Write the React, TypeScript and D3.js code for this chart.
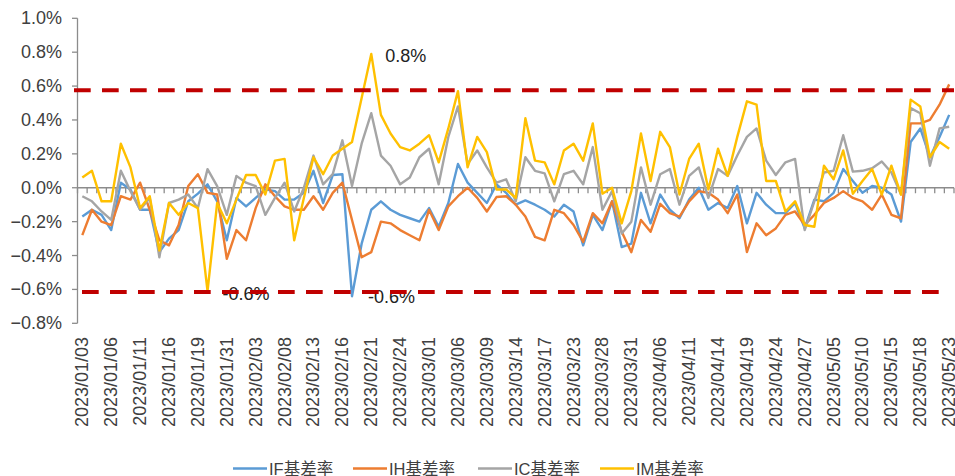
import React from "react";
import * as d3 from "d3";

const dates: string[] = [
  "2023/01/03","2023/01/04","2023/01/05","2023/01/06","2023/01/09","2023/01/10","2023/01/11","2023/01/12","2023/01/13","2023/01/16",
  "2023/01/17","2023/01/18","2023/01/19","2023/01/20","2023/01/30","2023/01/31","2023/02/01","2023/02/02","2023/02/03","2023/02/06",
  "2023/02/07","2023/02/08","2023/02/09","2023/02/10","2023/02/13","2023/02/14","2023/02/15","2023/02/16","2023/02/17","2023/02/20",
  "2023/02/21","2023/02/22","2023/02/23","2023/02/24","2023/02/27","2023/02/28","2023/03/01","2023/03/02","2023/03/03","2023/03/06",
  "2023/03/07","2023/03/08","2023/03/09","2023/03/10","2023/03/13","2023/03/14","2023/03/15","2023/03/16","2023/03/17","2023/03/20",
  "2023/03/22","2023/03/23","2023/03/24","2023/03/27","2023/03/28","2023/03/29","2023/03/30","2023/03/31","2023/04/03","2023/04/04",
  "2023/04/06","2023/04/07","2023/04/10","2023/04/11","2023/04/12","2023/04/13","2023/04/14","2023/04/17","2023/04/18","2023/04/19",
  "2023/04/20","2023/04/21","2023/04/24","2023/04/25","2023/04/26","2023/04/27","2023/04/28","2023/05/04","2023/05/05","2023/05/08",
  "2023/05/09","2023/05/10","2023/05/11","2023/05/12","2023/05/15","2023/05/16","2023/05/17","2023/05/18","2023/05/19","2023/05/22",
  "2023/05/23",
];

// values in %
const ifBasis: number[] = [
  -0.17,-0.13,-0.16,-0.25,0.03,-0.01,-0.13,-0.13,-0.38,-0.30,
  -0.25,-0.08,-0.035,0.02,-0.08,-0.31,-0.06,-0.11,-0.06,-0.01,
  -0.02,-0.07,-0.07,-0.03,0.10,-0.09,0.075,0.08,-0.64,-0.33,
  -0.13,-0.08,-0.13,-0.16,-0.18,-0.20,-0.12,-0.23,-0.09,0.14,
  0.03,-0.03,-0.09,0.02,-0.03,-0.10,-0.075,-0.10,-0.13,-0.17,
  -0.10,-0.14,-0.34,-0.16,-0.25,-0.08,-0.35,-0.33,-0.03,-0.21,
  -0.04,-0.13,-0.18,-0.07,0.0,-0.13,-0.09,-0.12,0.01,-0.21,
  -0.03,-0.10,-0.15,-0.15,-0.09,-0.24,-0.07,-0.08,-0.03,0.11,
  0.04,-0.03,0.01,0.0,-0.04,-0.20,0.27,0.35,0.18,0.30,
  0.43,
];

const ihBasis: number[] = [
  -0.28,-0.13,-0.20,-0.22,-0.05,-0.07,0.03,-0.13,-0.31,-0.34,
  -0.22,0.01,0.08,-0.03,-0.04,-0.42,-0.25,-0.31,-0.12,0.02,
  -0.05,-0.11,-0.13,-0.13,-0.05,-0.13,-0.03,0.03,-0.19,-0.41,
  -0.38,-0.20,-0.21,-0.25,-0.28,-0.31,-0.13,-0.25,-0.11,-0.05,
  0.0,-0.06,-0.14,-0.055,-0.05,-0.10,-0.17,-0.29,-0.31,-0.13,
  -0.15,-0.22,-0.32,-0.15,-0.21,-0.08,-0.26,-0.38,-0.19,-0.26,
  -0.095,-0.15,-0.17,-0.08,-0.02,-0.03,-0.07,-0.15,-0.04,-0.38,
  -0.21,-0.28,-0.24,-0.16,-0.14,-0.22,-0.16,-0.09,-0.06,-0.02,
  -0.06,-0.08,-0.13,-0.04,-0.16,-0.18,0.38,0.38,0.40,0.49,
  0.61,
];

const icBasis: number[] = [
  -0.05,-0.08,-0.14,-0.19,0.10,-0.02,-0.13,-0.06,-0.41,-0.09,
  -0.07,-0.04,-0.12,0.11,0.01,-0.16,0.07,0.03,0.01,-0.16,
  -0.06,0.03,-0.14,0.0,0.19,0.02,0.08,0.28,0.01,0.26,
  0.44,0.19,0.13,0.02,0.06,0.18,0.23,0.02,0.30,0.48,
  0.14,0.22,0.12,0.03,0.05,-0.08,0.18,0.10,0.085,-0.08,
  0.08,0.10,0.02,0.24,-0.13,-0.02,-0.27,-0.20,0.12,-0.10,
  0.08,0.11,-0.10,0.07,0.12,-0.06,0.11,0.07,0.19,0.30,
  0.35,0.16,0.075,0.15,0.17,-0.25,-0.08,0.09,0.10,0.31,
  0.095,0.10,0.115,0.155,0.09,-0.04,0.47,0.44,0.13,0.35,
  0.36,
];

const imBasis: number[] = [
  0.06,0.10,-0.08,-0.08,0.26,0.12,-0.12,-0.05,-0.37,-0.09,
  -0.16,-0.09,-0.12,-0.61,-0.09,-0.21,-0.07,0.075,0.075,-0.04,
  0.16,0.17,-0.31,-0.06,0.18,0.08,0.19,0.23,0.27,0.53,
  0.79,0.43,0.32,0.24,0.22,0.26,0.31,0.15,0.35,0.57,
  0.12,0.30,0.21,-0.01,-0.01,-0.06,0.41,0.16,0.15,0.02,
  0.22,0.26,0.16,0.38,-0.035,0.0,-0.21,-0.02,0.32,0.04,
  0.33,0.24,-0.04,0.17,0.26,-0.01,0.23,0.07,0.30,0.51,
  0.49,0.04,0.04,-0.14,-0.08,-0.22,-0.23,0.13,0.05,0.22,
  -0.035,0.04,0.11,-0.04,0.13,-0.04,0.52,0.48,0.18,0.27,
  0.23,
];

const seriesNames: string[] = ["IF基差率", "IH基差率", "IC基差率", "IM基差率"];
const seriesColors: string[] = ["#5B9BD5", "#ED7D31", "#A5A5A5", "#FFC000"];
const yTicks: number[] = [-0.8, -0.6, -0.4, -0.2, 0.0, 0.2, 0.4, 0.6, 0.8, 1.0];
const bandLevels: number[] = [0.575, -0.615];
const annotationTexts: string[] = ["0.8%", "-0.6%", "-0.6%"];

const W = 955;
const H = 476;
const FONT = "'Liberation Sans', Arial, 'Noto Sans CJK SC', sans-serif";
const TEXT_COLOR = "#404040";
const AXIS_COLOR = "#8C8C8C";

export default function App() {
  const allSeries = [ifBasis, ihBasis, icBasis, imBasis];
  const x = d3.scaleBand<string>().domain(dates).range([77.5, 954]).paddingInner(0).paddingOuter(0);
  const bw = x.bandwidth();
  const cx = (i: number) => (x(dates[i]) as number) + bw / 2;
  const y = d3.scaleLinear().domain([-0.8, 1.0]).range([323.3, 18.3]);
  const line = d3
    .line<number>()
    .x((_, i) => cx(i))
    .y((d) => y(d));

  const xLeft = 77.5;
  const xRight = 954;
  const y0 = y(0);

  // annotation anchors: IM max, IM min, IF min
  const imMaxI = d3.maxIndex(imBasis);
  const imMinI = d3.minIndex(imBasis);
  const ifMinI = d3.minIndex(ifBasis);
  const annots = [
    { i: imMaxI, v: imBasis[imMaxI], dx: 14, dy: 8 },
    { i: imMinI, v: imBasis[imMinI], dx: 15, dy: 9 },
    { i: ifMinI, v: ifBasis[ifMinI], dx: 16, dy: 7 },
  ];

  const legendX = [233, 353, 478, 600];

  return (
    <svg
      width={W}
      height={H}
      style={{ position: "absolute", left: 0, top: 0, background: "#fff" }}
      fontFamily={FONT}
    >
      <rect x={0} y={0} width={W} height={H} fill="#fff" />
      {/* y axis */}
      <line x1={xLeft} x2={xLeft} y1={y(1.0)} y2={y(-0.8)} stroke={AXIS_COLOR} strokeWidth={1.3} />
      {yTicks.map((t) => (
        <g key={t}>
          <line x1={xLeft - 5.5} x2={xLeft} y1={y(t)} y2={y(t)} stroke={AXIS_COLOR} strokeWidth={1.3} />
          <text
            x={62}
            y={y(t)}
            textAnchor="end"
            dominantBaseline="central"
            fontSize={18}
            fill={TEXT_COLOR}
          >
            {d3.format(".1f")(t) + "%"}
          </text>
        </g>
      ))}
      {/* x axis at zero */}
      <line x1={xLeft} x2={xRight} y1={y0} y2={y0} stroke={AXIS_COLOR} strokeWidth={1.3} />
      {d3.range(dates.length + 1).map((k) => (
        <line
          key={k}
          x1={xLeft + k * bw}
          x2={xLeft + k * bw}
          y1={y0}
          y2={y0 + 5.5}
          stroke={AXIS_COLOR}
          strokeWidth={1.3}
        />
      ))}
      {dates.map((d, i) =>
        i % 3 === 0 ? (
          <text
            key={d}
            transform={`translate(${cx(i)},337) rotate(-90)`}
            textAnchor="end"
            dominantBaseline="central"
            fontSize={18}
            fill={TEXT_COLOR}
          >
            {d}
          </text>
        ) : null
      )}
      {/* series */}
      {allSeries.map((s, k) => (
        <path
          key={k}
          d={line(s) as string}
          fill="none"
          stroke={seriesColors[k]}
          strokeWidth={2.4}
          strokeLinejoin="round"
        />
      ))}
      {/* annotations */}
      {annots.map((a, k) => (
        <text
          key={k}
          x={cx(a.i) + a.dx}
          y={y(a.v) + a.dy}
          fontSize={18}
          fill="#222"
        >
          {annotationTexts[k]}
        </text>
      ))}
      {/* red dashed bands */}
      <line
        x1={74}
        x2={xRight}
        y1={y(bandLevels[0])}
        y2={y(bandLevels[0])}
        stroke="#C00000"
        strokeWidth={4}
        strokeDasharray="16.7 11.3"
      />
      <line
        x1={82}
        x2={942}
        y1={y(bandLevels[1])}
        y2={y(bandLevels[1])}
        stroke="#C00000"
        strokeWidth={4}
        strokeDasharray="16.7 11.3"
      />
      {/* legend */}
      {seriesNames.map((n, k) => (
        <g key={n} transform={`translate(${legendX[k]},468.5)`}>
          <line x1={0} x2={34} y1={0} y2={0} stroke={seriesColors[k]} strokeWidth={2.4} />
          <text x={36} y={0} dominantBaseline="central" fontSize={16.5} fill={TEXT_COLOR}>
            {n}
          </text>
        </g>
      ))}
    </svg>
  );
}
